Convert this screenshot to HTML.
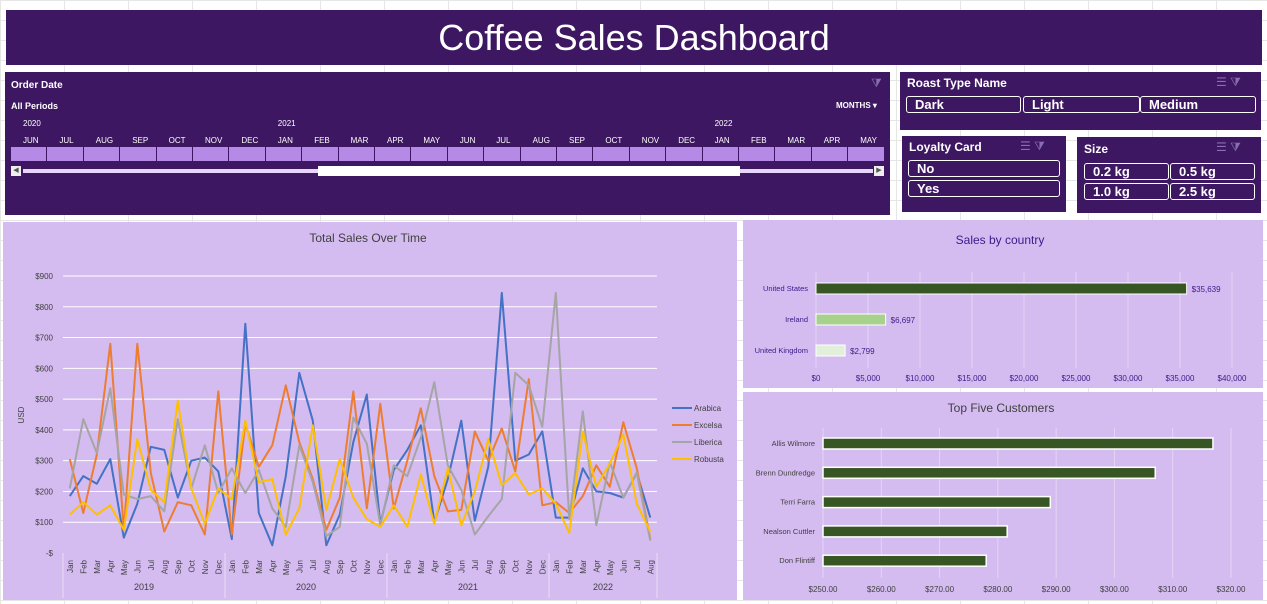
<!DOCTYPE html>
<html><head><meta charset="utf-8">
<style>
body{margin:0;width:1267px;height:604px;background:#fff;font-family:"Liberation Sans",sans-serif;position:relative;overflow:hidden;
background-image:linear-gradient(#e6e6e6 1px,transparent 1px),linear-gradient(90deg,#e6e6e6 1px,transparent 1px);background-size:64px 20px;}
.p{position:absolute;background:#3d1761;color:#fff;}
.btn{position:absolute;border:1px solid #fff;border-radius:3px;font-size:13px;font-weight:bold;padding-left:8px;line-height:15px;height:15px;box-sizing:content-box}
.ic{position:absolute;color:#8a6fb0;font-size:12px}
svg text{font-family:"Liberation Sans",sans-serif}
</style></head><body>
<div class="p" style="left:6px;top:10px;width:1256px;height:55px;text-align:center;font-size:36px;line-height:56px;">Coffee Sales Dashboard</div>

<div class="p" style="left:5px;top:72px;width:885px;height:143px;">
 <div style="position:absolute;left:6px;top:8px;font-size:10px;font-weight:bold">Order Date</div>
 <div style="position:absolute;left:6px;top:29px;font-size:9px;font-weight:bold">All Periods</div>
 <div style="position:absolute;left:831px;top:29px;font-size:8px;font-weight:bold">MONTHS ▾</div>
 <div class="ic" style="left:866px;top:4px">⧩</div>
 <div id="tl"></div>
 <div style="position:absolute;left:6px;top:94px;width:873px;height:10px;">
  <div style="position:absolute;left:0;top:0;width:10px;height:10px;background:#eee;color:#555;font-size:7px;text-align:center;line-height:10px">◀</div>
  <div style="position:absolute;left:12px;top:3px;width:850px;height:4px;background:#e6d6fa"></div>
  <div style="position:absolute;left:307px;top:0;width:422px;height:10px;background:#fff"></div>
  <div style="position:absolute;right:0;top:0;width:10px;height:10px;background:#eee;color:#555;font-size:7px;text-align:center;line-height:10px">▶</div>
 </div>
</div>

<div class="p" style="left:900px;top:72px;width:361px;height:58px;">
 <div style="position:absolute;left:7px;top:4px;font-size:12px;font-weight:bold">Roast Type Name</div>
 <div class="ic" style="left:316px;top:3px">☰ ⧩</div>
 <div class="btn" style="left:6px;top:24px;width:105px">Dark</div>
 <div class="btn" style="left:123px;top:24px;width:107px">Light</div>
 <div class="btn" style="left:240px;top:24px;width:106px">Medium</div>
</div>
<div class="p" style="left:902px;top:136px;width:164px;height:76px;">
 <div style="position:absolute;left:7px;top:4px;font-size:12px;font-weight:bold">Loyalty Card</div>
 <div class="ic" style="left:118px;top:3px">☰ ⧩</div>
 <div class="btn" style="left:6px;top:24px;width:142px">No</div>
 <div class="btn" style="left:6px;top:44px;width:142px">Yes</div>
</div>
<div class="p" style="left:1077px;top:137px;width:184px;height:76px;">
 <div style="position:absolute;left:7px;top:5px;font-size:12px;font-weight:bold">Size</div>
 <div class="ic" style="left:139px;top:3px">☰ ⧩</div>
 <div class="btn" style="left:7px;top:26px;width:75px">0.2 kg</div>
 <div class="btn" style="left:93px;top:26px;width:75px">0.5 kg</div>
 <div class="btn" style="left:7px;top:46px;width:75px">1.0 kg</div>
 <div class="btn" style="left:93px;top:46px;width:75px">2.5 kg</div>
</div>

<svg id="line" style="position:absolute;left:0;top:0" width="1267" height="604"></svg>

<script>
const NS="http://www.w3.org/2000/svg";
// timeline
const tlMonths=["JUN","JUL","AUG","SEP","OCT","NOV","DEC","JAN","FEB","MAR","APR","MAY","JUN","JUL","AUG","SEP","OCT","NOV","DEC","JAN","FEB","MAR","APR","MAY"];
const tlYears={0:"2020",7:"2021",19:"2022"};
const tl=document.getElementById('tl');
tlMonths.forEach((m,i)=>{
 const x=6+i*36.4;
 const t=document.createElement('div');
 
 
 t.style.cssText=`position:absolute;left:${x+12}px;top:64px;font-size:8px`;t.textContent=m;tl.appendChild(t);
 if(tlYears[i]){const y=document.createElement('div');
 
 
 y.style.cssText=`position:absolute;left:${x+12}px;top:47px;font-size:8px`;y.textContent=tlYears[i];tl.appendChild(y);}
 const b=document.createElement('div');
 
 
 b.style.cssText=`position:absolute;left:${x}px;top:75px;width:35.4px;height:14px;background:#b48ae6`;tl.appendChild(b);
});

const svg=document.getElementById('line');
function el(tag,attrs,text){const e=document.createElementNS(NS,tag);for(const k in attrs)e.setAttribute(k,attrs[k]);if(text!==undefined)e.textContent=text;svg.appendChild(e);return e;}

// ===== Line chart data =====
const months=["Jan","Feb","Mar","Apr","May","Jun","Jul","Aug","Sep","Oct","Nov","Dec"];
const years=["2019","2020","2021","2022"];
const yTicks=[0,100,200,300,400,500,600,700,800,900];
const yTickLabels=["-$","$100","$200","$300","$400","$500","$600","$700","$800","$900"];
const seriesNames=["Arabica","Excelsa","Liberica","Robusta"];
const arabica=[185,250,225,305,50,160,345,335,180,300,310,265,45,745,130,25,250,585,430,25,125,360,515,95,270,335,415,100,240,430,105,280,845,300,320,395,115,115,275,200,195,180,260,115];
const excelsa=[305,130,320,680,75,680,260,70,165,155,60,525,60,420,280,350,545,360,240,75,180,525,145,485,145,300,470,250,135,140,395,300,405,265,565,155,165,130,185,285,215,425,275,45];
const liberica=[210,435,325,535,190,175,185,135,435,210,350,195,275,195,270,145,85,350,230,55,85,440,355,90,285,250,375,555,285,205,60,120,175,585,545,410,845,110,460,90,295,180,260,40];
const robusta=[125,165,125,155,75,370,205,165,495,210,95,210,175,430,230,240,60,145,415,140,305,180,110,85,155,85,255,95,275,90,200,370,220,260,190,210,160,65,395,215,290,385,160,70];
const colors=["#4472c4","#ed7d31","#a5a5a5","#ffc000"];

// panel
el('rect',{x:3,y:222,width:734,height:378,fill:'#d4bbf0',});
el('text',{x:368,y:242,'text-anchor':'middle','font-size':12,fill:'#404040',},'Total Sales Over Time');
const X0=63,X1=657,N=44,Y0=553,YT=276,YMAX=900;
const xs=i=>X0+(i+0.5)*(X1-X0)/N;
const ys=v=>Y0-(v/YMAX)*(Y0-YT);
yTicks.forEach((t,i)=>{
 if(t>0)el('line',{x1:X0,x2:X1,y1:ys(t),y2:ys(t),stroke:'#fff','stroke-width':1,});
 el('text',{x:53,y:ys(t)+3,'text-anchor':'end','font-size':8,fill:'#404040',},yTickLabels[i]);
});
el('text',{x:24,y:415,'text-anchor':'middle','font-size':8,fill:'#404040',transform:'rotate(-90 24 415)',},'USD');
for(let i=0;i<N;i++){
 const x=xs(i);
 el('text',{x:x+3,y:560,'text-anchor':'end','font-size':8,fill:'#404040',transform:`rotate(-90 ${x+3} 560)`,},months[i%12]);
}
el('line',{x1:X0,x2:X0,y1:553,y2:598,stroke:'#e8dcf5',});
years.forEach((y,k)=>{
 const s=k*12,e=Math.min(N,s+12);
 const xe=X0+e*(X1-X0)/N;
 el('line',{x1:xe,x2:xe,y1:553,y2:598,stroke:'#e8dcf5',});
 el('text',{x:(X0+s*(X1-X0)/N+xe)/2,y:590,'text-anchor':'middle','font-size':9,fill:'#404040',},y);
});
[arabica,excelsa,liberica,robusta].forEach((arr,si)=>{
 const p=el('polyline',{points:arr.map((v,i)=>xs(i).toFixed(1)+','+ys(v).toFixed(1)).join(' '),fill:'none',stroke:colors[si],'stroke-width':2,'stroke-linejoin':'round'});
 
 
 const ly=408+si*17;
 el('line',{x1:672,x2:692,y1:ly,y2:ly,stroke:colors[si],'stroke-width':2,});
 el('text',{x:694,y:ly+3,'font-size':8,fill:'#404040',},seriesNames[si]);
});

// ===== Sales by country =====
const countries=["United States","Ireland","United Kingdom"];
const countrySales=[35639,6697,2799];
const countryLabels=["$35,639","$6,697","$2,799"];
const countryTicks=[0,5000,10000,15000,20000,25000,30000,35000,40000];
const countryTickLabels=["$0","$5,000","$10,000","$15,000","$20,000","$25,000","$30,000","$35,000","$40,000"];
const countryColors=["#375623","#a9d18e","#e2efda"];
el('rect',{x:743,y:220,width:520,height:168,fill:'#d4bbf0',});
el('text',{x:1000,y:244,'text-anchor':'middle','font-size':12,fill:'#3d1a8a',},'Sales by country');
const CX0=816,CX1=1232,cx=v=>CX0+v/40000*(CX1-CX0);
countryTicks.forEach((t,i)=>{
 el('line',{x1:cx(t),x2:cx(t),y1:272,y2:368,stroke:'#e4d6f5',});
 el('text',{x:cx(t),y:381,'text-anchor':'middle','font-size':8,fill:'#3d1a8a',},countryTickLabels[i]);
});
countries.forEach((c,i)=>{
 const y=283+i*31;
 el('rect',{x:CX0,y:y,width:cx(countrySales[i])-CX0,height:11,fill:countryColors[i],stroke:'#fff','stroke-width':1,});
 el('text',{x:808,y:y+8,'text-anchor':'end','font-size':7.5,fill:'#3d1a8a',},c);
 el('text',{x:cx(countrySales[i])+5,y:y+9,'font-size':8,fill:'#3d1a8a',},countryLabels[i]);
});

// ===== Top five customers =====
const customers=["Allis Wilmore","Brenn Dundredge","Terri Farra","Nealson Cuttler","Don Flintiff"];
const customerSales=[316.9,307,289,281.6,278];
const custTicks=[250,260,270,280,290,300,310,320];
const custTickLabels=["$250.00","$260.00","$270.00","$280.00","$290.00","$300.00","$310.00","$320.00"];
el('rect',{x:743,y:392,width:520,height:208,fill:'#d4bbf0',});
el('text',{x:1001,y:412,'text-anchor':'middle','font-size':12,fill:'#404040',},'Top Five Customers');
const KX0=823,KX1=1231,kx=v=>KX0+(v-250)/70*(KX1-KX0);
custTicks.forEach((t,i)=>{
 el('line',{x1:kx(t),x2:kx(t),y1:428,y2:578,stroke:'#e4d6f5',});
 el('text',{x:kx(t),y:592,'text-anchor':'middle','font-size':8,fill:'#404040',},custTickLabels[i]);
});
customers.forEach((c,i)=>{
 const y=438+i*29.3;
 el('rect',{x:KX0,y:y,width:kx(customerSales[i])-KX0,height:11,fill:'#375623',stroke:'#fff','stroke-width':1.5,});
 el('text',{x:815,y:y+8,'text-anchor':'end','font-size':7.5,fill:'#404040',},c);
});
</script>
</body></html>
